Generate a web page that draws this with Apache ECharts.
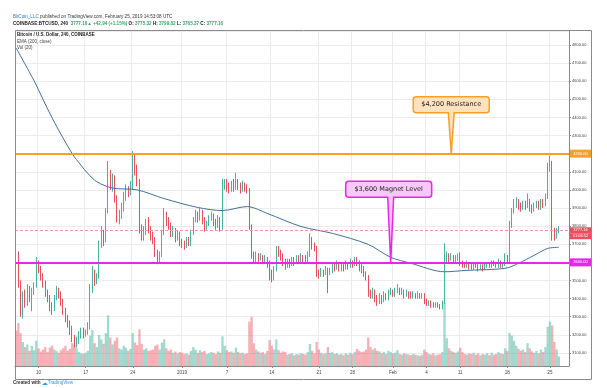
<!DOCTYPE html>
<html><head><meta charset="utf-8">
<script src="https://cdn.jsdelivr.net/npm/echarts@6/dist/echarts.min.js"></script>
<style>html,body{margin:0;padding:0;background:#fff}#c{width:607px;height:388px}</style>
</head><body><div id="c"></div>
<script>
// ---- Data (8-hour candles) ----
const opens = [3765,3640,3480,3330,3420,3380,3450,3400,3440,3470,3590,3560,3520,3480,3430,3400,3350,3340,3400,3440,3420,3380,3330,3290,3260,3230,3180,3150,3170,3200,3220,3200,3210,3240,3450,3540,3500,3520,3700,3760,3720,3880,4080,4030,4060,3950,3840,3860,3900,3960,4000,3990,4020,4180,4120,4040,3790,3740,3770,3820,3780,3750,3720,3650,3610,3640,3760,3860,3830,3800,3760,3780,3730,3760,3710,3700,3690,3720,3700,3760,3830,3860,3840,3880,3830,3790,3810,3840,3860,3820,3800,3840,3790,4020,4040,4010,4000,4030,4010,4040,4020,4000,4030,4010,4000,3800,3640,3620,3640,3620,3630,3610,3620,3600,3540,3510,3560,3670,3650,3630,3600,3580,3600,3590,3610,3600,3620,3610,3630,3620,3610,3640,3720,3690,3680,3540,3530,3550,3540,3560,3540,3550,3580,3570,3590,3560,3580,3570,3590,3580,3600,3590,3610,3600,3570,3560,3540,3520,3430,3420,3440,3400,3380,3410,3390,3420,3400,3430,3440,3420,3440,3450,3430,3440,3420,3430,3420,3410,3420,3410,3420,3410,3420,3380,3370,3380,3370,3360,3370,3360,3350,3380,3620,3640,3620,3630,3610,3620,3630,3600,3590,3580,3590,3580,3570,3590,3580,3570,3580,3570,3580,3590,3580,3600,3590,3580,3600,3580,3590,3620,3610,3800,3880,3920,3940,3910,3900,3920,3910,3930,3900,3890,3910,3920,3900,3930,3920,3960,4120,4150,3770,3740,3770];
const highs = [3790,3660,3500,3440,3450,3480,3470,3460,3490,3630,3610,3580,3540,3500,3450,3420,3380,3420,3470,3460,3440,3400,3350,3310,3280,3250,3200,3190,3220,3240,3240,3230,3270,3480,3580,3560,3540,3720,3800,3780,3900,4160,4110,4090,4080,3970,3890,3930,3990,4030,4020,4050,4215,4200,4140,4060,3810,3800,3840,3850,3800,3770,3740,3670,3660,3780,3900,3880,3850,3820,3800,3790,3780,3770,3730,3720,3740,3740,3780,3850,3890,3880,3900,3890,3850,3830,3860,3880,3870,3840,3860,3850,4060,4060,4060,4040,4050,4060,4095,4060,4040,4050,4040,4030,4010,3810,3660,3660,3650,3650,3640,3640,3630,3610,3560,3580,3690,3690,3670,3650,3620,3620,3620,3630,3630,3640,3640,3650,3640,3640,3660,3760,3740,3710,3690,3560,3570,3560,3580,3570,3570,3600,3600,3610,3600,3600,3590,3610,3600,3620,3610,3630,3630,3610,3590,3580,3550,3530,3450,3460,3450,3420,3430,3420,3440,3430,3450,3460,3450,3460,3480,3460,3460,3450,3450,3440,3440,3440,3430,3440,3430,3430,3430,3400,3390,3390,3380,3380,3380,3370,3390,3705,3660,3650,3650,3640,3640,3650,3655,3610,3600,3610,3600,3590,3600,3600,3590,3590,3590,3600,3600,3600,3610,3610,3600,3620,3610,3600,3650,3640,3830,3900,3950,3960,3950,3930,3940,3940,3980,3950,3920,3930,3940,3940,3950,3950,3980,4150,4190,4160,3790,3790,3800];
const lows = [3620,3460,3300,3290,3350,3360,3380,3330,3420,3460,3540,3500,3460,3410,3380,3330,3310,3330,3390,3400,3360,3310,3270,3240,3200,3160,3130,3130,3150,3180,3180,3190,3200,3230,3430,3470,3480,3510,3680,3690,3710,3870,4000,3990,3930,3820,3810,3840,3880,3940,3960,3970,4000,4080,4020,3760,3720,3720,3750,3760,3720,3700,3630,3590,3595,3630,3750,3800,3780,3740,3740,3710,3720,3690,3680,3670,3680,3690,3690,3750,3820,3820,3830,3810,3770,3780,3800,3830,3800,3780,3790,3770,3780,4000,3990,3980,3990,3990,4000,4000,3980,3990,3990,3980,3780,3620,3600,3600,3600,3610,3590,3600,3570,3500,3490,3500,3550,3630,3610,3580,3560,3570,3570,3580,3580,3590,3590,3600,3600,3590,3600,3630,3670,3660,3520,3510,3520,3520,3530,3430,3530,3540,3550,3560,3550,3550,3550,3560,3560,3570,3570,3580,3580,3550,3540,3520,3500,3410,3400,3400,3380,3360,3370,3370,3380,3390,3390,3420,3410,3410,3430,3420,3420,3400,3410,3400,3400,3400,3400,3400,3400,3400,3370,3360,3360,3350,3350,3350,3350,3340,3340,3370,3600,3600,3610,3600,3600,3610,3580,3570,3570,3570,3560,3560,3560,3570,3550,3560,3550,3560,3570,3570,3570,3580,3570,3570,3570,3570,3580,3590,3600,3790,3870,3900,3890,3880,3890,3890,3900,3880,3870,3880,3900,3890,3890,3900,3910,3950,4100,3720,3720,3730,3760];
const closes = [3640,3480,3330,3420,3380,3450,3400,3440,3470,3590,3560,3520,3480,3430,3400,3350,3340,3400,3440,3420,3380,3330,3290,3260,3230,3180,3150,3170,3200,3220,3200,3210,3240,3450,3540,3500,3520,3700,3760,3720,3880,4080,4030,4060,3950,3840,3860,3900,3960,4000,3990,4020,4180,4120,4040,3790,3740,3770,3820,3780,3750,3720,3650,3610,3640,3760,3860,3830,3800,3760,3780,3730,3760,3710,3700,3690,3720,3700,3760,3830,3860,3840,3880,3830,3790,3810,3840,3860,3820,3800,3840,3790,4020,4040,4010,4000,4030,4010,4040,4020,4000,4030,4010,4000,3800,3640,3620,3640,3620,3630,3610,3620,3600,3540,3510,3560,3670,3650,3630,3600,3580,3600,3590,3610,3600,3620,3610,3630,3620,3610,3640,3720,3690,3680,3540,3530,3550,3540,3560,3540,3550,3580,3570,3590,3560,3580,3570,3590,3580,3600,3590,3610,3600,3570,3560,3540,3520,3430,3420,3440,3400,3380,3410,3390,3420,3400,3430,3440,3420,3440,3450,3430,3440,3420,3430,3420,3410,3420,3410,3420,3410,3420,3380,3370,3380,3370,3360,3370,3360,3350,3380,3620,3640,3620,3630,3610,3620,3630,3600,3590,3580,3590,3580,3570,3590,3580,3570,3580,3570,3580,3590,3580,3600,3590,3580,3600,3580,3590,3620,3610,3800,3880,3920,3940,3910,3900,3920,3910,3930,3900,3890,3910,3920,3900,3930,3920,3960,4120,4150,3770,3740,3770,3777.16];
const volumes = [5.6,6.8,5.2,3.8,3.0,3.4,2.4,3.2,2.5,4.0,2.8,2.3,2.6,3.0,2.2,2.9,3.2,2.6,2.4,2.1,2.5,2.8,3.2,2.4,2.7,3.6,3.3,2.8,2.2,2.0,1.9,2.1,2.4,4.8,5.7,3.6,3.0,4.9,4.2,3.5,5.2,8.0,4.5,3.4,4.0,4.5,2.8,2.6,3.2,2.9,2.4,2.7,5.2,3.7,3.3,5.8,3.5,2.6,2.8,2.4,2.5,2.6,3.2,3.4,2.6,3.7,4.2,2.8,2.4,2.6,2.1,2.3,2.0,2.2,2.1,1.9,2.0,1.8,2.4,3.0,2.6,2.1,2.5,2.2,2.4,1.9,2.0,2.2,2.1,1.9,2.3,2.1,4.7,3.2,2.5,2.2,2.3,2.1,2.9,2.2,2.0,2.1,1.9,2.0,7.0,7.8,3.6,2.6,2.3,2.1,2.2,1.9,2.4,4.1,3.2,2.6,4.2,2.5,2.1,2.3,2.2,1.8,1.9,2.0,1.7,1.9,1.8,2.0,1.9,1.8,2.2,3.5,2.4,2.0,3.8,2.6,2.1,1.9,2.0,3.0,2.1,2.2,1.9,2.0,1.8,1.9,1.7,2.0,1.8,2.1,1.9,2.2,2.7,2.4,2.2,2.3,2.6,4.5,3.0,2.6,2.8,2.4,2.3,2.0,2.2,1.9,2.4,2.2,2.0,2.1,2.5,1.9,1.8,2.0,1.9,1.8,1.7,1.9,1.8,1.7,1.6,1.8,2.6,2.2,1.9,1.8,2.0,1.7,1.8,1.9,2.2,10.0,4.4,2.8,2.4,2.2,2.1,2.3,2.9,2.2,1.9,1.8,2.0,1.9,2.1,1.8,2.0,1.7,1.9,1.8,2.0,1.7,2.1,1.8,1.9,2.2,2.0,1.9,2.8,2.4,5.2,4.8,4.0,3.2,2.7,2.4,2.6,2.2,3.6,2.8,2.3,2.1,2.4,2.0,2.6,2.2,3.0,6.2,7.0,6.4,3.8,2.6,1.5];
const emaBars   = [0,8,16,25,29,32,36,43,54,66,81,92,103,112,127,141,157,167,176,191,201,218,224,231,237,242];
const emaValues = [4783,4602,4398,4200,4135,4090,4045,4010,4000,3952,3903,3886,3908,3870,3798,3760,3699,3628,3595,3548,3556,3567,3595,3639,3677,3683];
const xTickBars   = [10,31,52,74,94,114,135,150,168,183,198,219,238];
const xTickLabels = ['10','17','24','2019','7','14','21','28','Feb','4','11','18','25'];
const totalBars = 247;
const levelPrices = [4200, 3600];
const lastPrice = 3777.16;
const countdown = '01:06:52';
const annotationTexts  = ['$4,200 Resistance', '$3,600 Magnet Level'];
const annotationPrices = [4200, 3600];
const annotationBars   = [194, 167];

// ---- Styles ----
const UP = '#45b39d', DOWN = '#eb4d5c';
const ORANGE = '#f5a02a', MAGENTA = '#e925e9';
const levelColors = [ORANGE, MAGENTA];
const annFill = ['#fde2bd', '#f8c8f8'];
const annBoxW = [76, 86], annRise = [41, 65], annDx = [0, -2];
const FONT = 'Liberation Sans, Arial, sans-serif';

const categories = [];
for (let i = 0; i < totalBars; i++) categories.push(String(i));
const candleData = closes.map((c, i) => [opens[i], c, lows[i], highs[i]]);
const volData = volumes.map((v, i) => ({
  value: v,
  itemStyle: { color: closes[i] >= opens[i] ? 'rgba(69,179,157,0.5)' : 'rgba(235,77,92,0.45)' }
}));
const emaData = emaBars.map((b, i) => [b, emaValues[i]]);
const isTick = (idx) => xTickBars.indexOf(idx) >= 0;

const chart = echarts.init(document.getElementById('c'), null, { renderer: 'canvas' });
const levelMarks = levelPrices.map((p, k) => ({
  yAxis: p,
  lineStyle: { color: levelColors[k], width: 2, type: 'solid' },
  label: {
    show: true, position: 'end', distance: 1,
    formatter: '{a|' + p.toFixed(2) + '}',
    rich: { a: { backgroundColor: levelColors[k], color: '#fff', fontSize: 4, fontFamily: FONT, width: 17, align: 'center', padding: [2, 2] } }
  }
}));
levelMarks.push({
  yAxis: lastPrice,
  lineStyle: { color: '#f29a9f', width: 1, type: [3, 2] },
  label: {
    show: true, position: 'end', distance: 1, offset: [0, 3],
    formatter: '{a|' + lastPrice.toFixed(2) + '}\n{b|' + countdown + '}',
    rich: {
      a: { backgroundColor: DOWN, color: '#fff', fontSize: 4, fontFamily: FONT, width: 17, align: 'center', padding: [1, 2] },
      b: { backgroundColor: DOWN, color: '#fff', fontSize: 4, fontFamily: FONT, width: 17, align: 'center', padding: [1, 2] }
    }
  }
});

chart.setOption({
  animation: false,
  backgroundColor: '#ffffff',
  grid: { left: 15, right: 38, top: 31, bottom: 22, containLabel: false },
  xAxis: {
    type: 'category', data: categories, boundaryGap: true,
    axisLine: { show: true, lineStyle: { color: '#8a8a8a', width: 1 } },
    axisTick: { show: true, interval: (i) => isTick(i), length: 2, lineStyle: { color: '#8a8a8a' }, alignWithLabel: true },
    axisLabel: { interval: (i) => isTick(i), formatter: (v, i) => xTickLabels[xTickBars.indexOf(i)], fontSize: 4.5, color: '#444', fontFamily: FONT, margin: 4 },
    splitLine: { show: true, interval: (i) => isTick(i), lineStyle: { color: '#ececec', width: 1 } }
  },
  yAxis: [{
    type: 'value', position: 'right', scale: true, min: 3028, max: 4877, splitNumber: 18, minInterval: 100, maxInterval: 100,
    axisLine: { show: true, lineStyle: { color: '#8a8a8a', width: 1 } },
    axisTick: { show: true, length: 2, lineStyle: { color: '#8a8a8a' } },
    axisLabel: { fontSize: 4, color: '#444', fontFamily: FONT, margin: 3, showMinLabel: false, showMaxLabel: false, formatter: (v) => v.toFixed(2) },
    splitLine: { show: true, lineStyle: { color: '#ececec', width: 1 } }
  }, {
    type: 'value', min: 0, max: 53, show: false, splitLine: { show: false }
  }],
  series: [{
    type: 'bar', yAxisIndex: 1, data: volData, barWidth: 2.3, silent: true, z: 1
  }, {
    type: 'candlestick', data: candleData, barWidth: 1.2, z: 3,
    itemStyle: { color: UP, color0: DOWN, borderColor: UP, borderColor0: DOWN, borderWidth: 1 },
    markLine: { silent: true, symbol: ['none', 'none'], animation: false, data: levelMarks }
  }, {
    type: 'line', data: emaData, showSymbol: false, smooth: 0.3, z: 4,
    lineStyle: { color: '#43709a', width: 1 }
  }]
});

// ---- Frame, texts, callouts ----
const g = [];
const line = (x1, y1, x2, y2, c) => g.push({ type: 'line', shape: { x1, y1, x2, y2 }, style: { stroke: c || '#8a8a8a', lineWidth: 1 }, z: 10 });
line(15.5, 30.5, 591.5, 30.5);
line(15.5, 30.5, 15.5, 379.5);
line(591.5, 30.5, 591.5, 379.5);
line(15.5, 379.5, 591.5, 379.5);

g.push({ type: 'text', x: 13, y: 17, z: 10, style: {
  text: '{l|BitCoin_LLC}{t| published on TradingView.com, February 25, 2019 14:53:08 UTC}',
  verticalAlign: 'middle',
  rich: { l: { fill: '#2e7bcf', fontSize: 4.6, fontFamily: FONT }, t: { fill: '#333', fontSize: 4.6, fontFamily: FONT } } } });
g.push({ type: 'text', x: 13, y: 24, z: 10, style: {
  text: '{k|COINBASE:BTCUSD, 240  }{v|3777.16}{g|▲}{v| +42.94 (+1.15%)}{k| O: }{v|3775.32}{k| H: }{v|3799.82}{k| L: }{v|3765.37}{k| C: }{v|3777.16}',
  verticalAlign: 'middle',
  rich: { k: { fill: '#222', fontSize: 4.6, fontWeight: 'bold', fontFamily: FONT },
          v: { fill: '#3aa56d', fontSize: 4.6, fontWeight: 'bold', fontFamily: FONT },
          g: { fill: '#3aa56d', fontSize: 4.6, fontFamily: FONT } } } });
g.push({ type: 'text', x: 17, y: 35, z: 10, style: { text: 'Bitcoin / U.S. Dollar, 240, COINBASE', fill: '#222', fontSize: 4.5, fontWeight: 'bold', fontFamily: FONT, verticalAlign: 'middle' } });
g.push({ type: 'text', x: 17, y: 42, z: 10, style: { text: 'EMA (200, close)', fill: '#444', fontSize: 4.5, fontFamily: FONT, verticalAlign: 'middle' } });
g.push({ type: 'text', x: 17, y: 48, z: 10, style: { text: 'Vol (20)', fill: '#444', fontSize: 4.5, fontFamily: FONT, verticalAlign: 'middle' } });
g.push({ type: 'text', x: 13, y: 383, z: 10, style: {
  text: '{a|Created with }{b|☁}{c|TradingView}', verticalAlign: 'middle',
  rich: { a: { fill: '#333', fontSize: 4.6, fontWeight: 'bold', fontFamily: FONT }, b: { fill: '#2e9be6', fontSize: 6, fontFamily: 'DejaVu Sans' }, c: { fill: '#2e9be6', fontSize: 4.6, fontFamily: FONT } } } });

annotationTexts.forEach((t, k) => {
  const tip = chart.convertToPixel({ xAxisIndex: 0, yAxisIndex: 0 }, [annotationBars[k], annotationPrices[k]]);
  const bx = tip[0] + annDx[k];
  const bottom = tip[1] - annRise[k];
  const h = 16, w = annBoxW[k];
  g.push({ type: 'polygon', z: 11, shape: { points: [[tip[0] - 3, bottom - 1], [tip[0] + 3, bottom - 1], [tip[0], tip[1]]] },
    style: { fill: annFill[k], stroke: levelColors[k], lineWidth: 1.5 } });
  g.push({ type: 'rect', z: 12, shape: { x: bx - w / 2, y: bottom - h, width: w, height: h, r: 3 },
    style: { fill: annFill[k], stroke: levelColors[k], lineWidth: 1.5 } });
  g.push({ type: 'rect', z: 13, shape: { x: tip[0] - 2.2, y: bottom - 1.5, width: 4.4, height: 2.5 }, style: { fill: annFill[k] } });
  g.push({ type: 'text', z: 14, x: bx, y: bottom - h / 2, style: { text: t, fill: '#1c1c1c', fontSize: 6.5, fontFamily: 'DejaVu Sans, Verdana, sans-serif', align: 'center', verticalAlign: 'middle' } });
});
chart.setOption({ graphic: g });
</script></body></html>
